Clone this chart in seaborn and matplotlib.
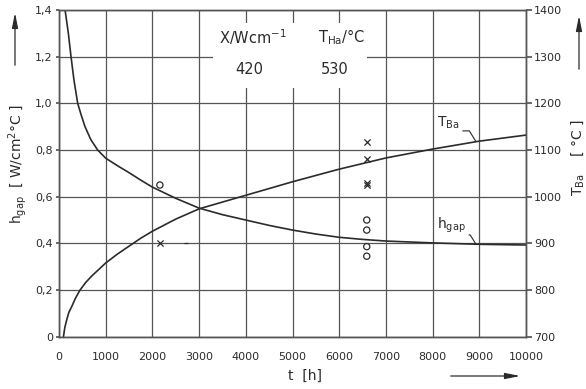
import numpy as np
import pandas as pd
import matplotlib
matplotlib.use("Agg")
import matplotlib.pyplot as plt
import seaborn as sns
from matplotlib.patches import Rectangle, FancyArrowPatch

# curve h_gap (left axis)
h_t = [130, 165, 200, 257, 320, 400, 475, 557, 680, 828, 1000, 1250, 1500,
       1750, 2000, 2500, 3000, 3500, 4000, 4500, 5000, 5500, 6000, 6500,
       7000, 8000, 9000, 10000]
h_val = [1.40, 1.35, 1.30, 1.20, 1.10, 1.00, 0.95, 0.90, 0.845, 0.80, 0.765,
         0.733, 0.703, 0.671, 0.641, 0.593, 0.551, 0.523, 0.50, 0.477, 0.457,
         0.44, 0.426, 0.417, 0.41, 0.402, 0.396, 0.393]

# curve T_Ba (right axis)
T_t = [95, 125, 165, 210, 270, 350, 450, 570, 700, 850, 1000, 1250, 1500,
       1750, 2000, 2500, 3000, 4000, 5000, 6000, 7000, 8000, 9000, 10000]
T_val = [700, 720, 736, 752, 764, 782, 800, 816, 830, 844, 858, 877, 894,
         911, 926, 952, 974, 1003, 1032, 1059, 1083, 1102, 1119, 1132]

# measured points
circ_t = [2160, 6590, 6590, 6590, 6590]
circ_h = [0.65, 0.50, 0.457, 0.386, 0.345]
cross_t = [2160, 6590, 6590, 6590, 6590]
cross_h = [0.40, 0.836, 0.76, 0.658, 0.648]
dash_t = [2730]
dash_h = [0.40]

x_ticks = [0, 1000, 2000, 3000, 4000, 5000, 6000, 7000, 8000, 9000, 10000]
h_ticks = [0, 0.2, 0.4, 0.6, 0.8, 1.0, 1.2, 1.4]
h_labels = ["0", "0,2", "0,4", "0,6", "0,8", "1,0", "1,2", "1,4"]
T_ticks = [700, 800, 900, 1000, 1100, 1200, 1300, 1400]

sns.set_theme(style="white")
plt.rcParams["font.family"] = ["DejaVu Sans"]
plt.rcParams["mathtext.default"] = "regular"

ink = "#2b2b2b"
gridc = "#555555"

fig = plt.figure(figsize=(5.86, 3.89), dpi=100)
ax = fig.add_axes([0.1007, 0.1344, 0.7969, 0.8399])

h_df = pd.DataFrame({"t": h_t, "h": h_val})
T_df = pd.DataFrame({"t": T_t, "T": T_val})

sns.lineplot(data=h_df, x="t", y="h", ax=ax, color=ink, lw=1.2, zorder=4)
sns.scatterplot(x=circ_t, y=circ_h, ax=ax, marker="o", s=20,
                fc="none", ec=ink, linewidth=0.9, zorder=5)
sns.scatterplot(x=cross_t, y=cross_h, ax=ax, marker="x", s=20,
                color=ink, linewidth=0.9, zorder=5)
sns.scatterplot(x=dash_t, y=dash_h, ax=ax, marker="_", s=12,
                color=ink, linewidth=0.9, zorder=5)

ax.set_xlim(0, 10000)
ax.set_ylim(0, 1.4)
ax.set_xticks(x_ticks)
ax.set_xticklabels([str(v) for v in x_ticks])
ax.set_yticks(h_ticks)
ax.set_yticklabels(h_labels)
ax.grid(True, color=gridc, lw=0.9)
ax.set_axisbelow(True)
ax.set_xlabel("")
ax.set_ylabel("")
ax.tick_params(axis="x", length=0, pad=11, labelsize=8, labelcolor=ink)
ax.tick_params(axis="y", length=2, pad=2.5, labelsize=8, labelcolor=ink, color=gridc)
for s in ax.spines.values():
    s.set_color(gridc)
    s.set_linewidth(1.0)

# white box behind the legend text
ax.add_patch(Rectangle((0.33, 0.761), 0.33, 0.2, transform=ax.transAxes,
                       fc="white", ec="none", zorder=3))
ax.text(0.415, 0.918, "X/Wcm$^{-1}$", transform=ax.transAxes, ha="center",
        va="center", fontsize=10.5, color=ink, zorder=6)
ax.text(0.606, 0.918, "T$_{Ha}$/°C", transform=ax.transAxes, ha="center",
        va="center", fontsize=10.5, color=ink, zorder=6)
ax.text(0.407, 0.819, "420", transform=ax.transAxes, ha="center",
        va="center", fontsize=10.5, color=ink, zorder=6)
ax.text(0.591, 0.819, "530", transform=ax.transAxes, ha="center",
        va="center", fontsize=10.5, color=ink, zorder=6)

ax2 = ax.twinx()
sns.lineplot(data=T_df, x="t", y="T", ax=ax2, color=ink, lw=1.2)
ax2.set_ylim(700, 1400)
ax2.set_yticks(T_ticks)
ax2.set_yticklabels([str(v) for v in T_ticks])
ax2.set_ylabel("")
ax2.grid(False)
ax2.tick_params(axis="y", length=4, pad=2, labelsize=8, labelcolor=ink, color=gridc)
for s in ax2.spines.values():
    s.set_color(gridc)
    s.set_linewidth(1.0)

# curve labels with leader lines
ax2.annotate("T$_{Ba}$", xy=(8930, 1118), xytext=(8094, 1141),
             ha="left", va="bottom", fontsize=10, color=ink,
             arrowprops=dict(arrowstyle="-", color=ink, lw=0.8, relpos=(0, 0),
                             shrinkA=0, shrinkB=0,
                             connectionstyle="angle,angleA=0,angleB=122,rad=0"))
ax.annotate("h$_{gap}$", xy=(8930, 0.396), xytext=(8094, 0.436),
            ha="left", va="bottom", fontsize=10, color=ink,
            arrowprops=dict(arrowstyle="-", color=ink, lw=0.8, relpos=(0, 0),
                            shrinkA=0, shrinkB=0,
                            connectionstyle="angle,angleA=0,angleB=122,rad=0"))

# axis titles and arrows
fig.text(18 / 586, 1 - 164 / 389, "h$_{gap}$  [ W/cm$^{2}$°C ]", rotation=90,
         ha="center", va="center", fontsize=10, color=ink)
fig.text(578 / 586, 1 - 158 / 389, "T$_{Ba}$    [ °C ]", rotation=90,
         ha="center", va="center", fontsize=10, color=ink)
fig.text(305 / 586, 1 - 376 / 389, "t  [h]", ha="center", va="center",
         fontsize=10, color=ink)

arr = dict(arrowstyle="-|>,head_length=0.9,head_width=0.18", color=ink, lw=0.9,
           transform=fig.transFigure, mutation_scale=10)
fig.add_artist(FancyArrowPatch((15 / 586, 1 - 68 / 389), (15 / 586, 1 - 10 / 389), **arr))
fig.add_artist(FancyArrowPatch((579 / 586, 1 - 72 / 389), (579 / 586, 1 - 13 / 389), **arr))
fig.add_artist(FancyArrowPatch((448 / 586, 1 - 376 / 389), (523 / 586, 1 - 376 / 389), **arr))

fig.savefig("out.png", dpi=100, facecolor="white")
